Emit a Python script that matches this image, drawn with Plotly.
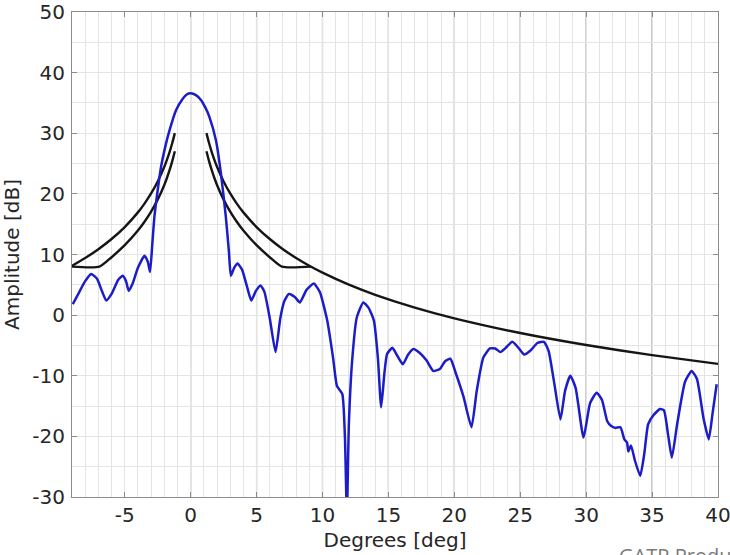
import plotly.graph_objects as go

# ---------------- data ----------------
# measured antenna pattern (blue)
pattern_deg = [-8.94, -8.5, -8.0, -7.55, -7.1, -6.7, -6.4, -6.0, -5.5, -5.15, -4.9, -4.7, -4.4, -4.0,
               -3.5, -3.25, -3.08, -2.9, -2.75, -2.5, -2.25, -1.9, -1.6, -1.11, -0.6, -0.3, 0.0, 0.4,
               0.78, 1.1, 1.42, 1.92, 2.3, 2.67, 2.9, 3.05, 3.3, 3.56, 3.9, 4.3, 4.6, 4.95, 5.3, 5.6,
               6.0, 6.44, 6.8, 7.1, 7.45, 7.9, 8.28, 8.8, 9.34, 9.8, 10.36, 10.8, 11.1, 11.5, 11.7,
               11.85, 12.0, 12.25, 12.6, 13.1, 13.5, 13.9, 14.2, 14.45, 14.7, 14.9, 15.3, 15.7, 16.1,
               16.5, 16.9, 17.4, 17.9, 18.4, 18.9, 19.3, 19.7, 20.1, 20.7, 21.3, 21.7, 22.2, 22.7,
               23.1, 23.5, 23.9, 24.4, 24.9, 25.3, 25.8, 26.3, 26.8, 27.15, 27.6, 28.05, 28.4, 28.8,
               29.2, 29.8, 30.3, 30.8, 31.2, 31.6, 31.9, 32.2, 32.6, 32.9, 33.1, 33.2, 33.4, 33.7,
               34.1, 34.4, 34.7, 35.1, 35.6, 35.9, 36.2, 36.5, 36.9, 37.5, 38.0, 38.4, 38.9, 39.3,
               39.6, 39.9]
pattern_db = [1.8, 3.6, 5.6, 6.8, 6.0, 3.8, 2.4, 3.5, 5.8, 6.5, 5.6, 4.0, 5.2, 7.8,
              9.8, 8.8, 7.1, 12.0, 16.2, 20.6, 24.4, 28.0, 30.5, 33.8, 35.7, 36.4, 36.6, 36.3,
              35.5, 34.3, 32.7, 28.8, 23.3, 16.2, 10.5, 6.5, 7.8, 8.5, 7.5, 4.5, 2.4, 4.0, 4.9, 3.8,
              -0.5, -6.1, -0.5, 2.3, 3.5, 3.0, 2.1, 4.2, 5.2, 3.8, -0.9, -7.0, -11.7, -13.0, -20.0,
              -33.0, -18.0, -7.5, -0.4, 2.1, 1.2, -0.9, -7.0, -15.2, -9.5, -6.4, -5.4, -6.8, -8.1,
              -6.5, -5.6, -6.3, -7.5, -9.2, -8.9, -7.6, -7.2, -9.5, -13.5, -18.5, -12.5, -7.0, -5.5,
              -5.5, -6.1, -5.4, -4.4, -5.5, -6.5, -5.8, -4.6, -4.4, -5.9, -11.5, -17.2, -12.5, -10.0,
              -12.0, -20.2, -14.5, -12.8, -14.0, -17.5, -18.3, -18.6, -18.5, -20.5, -21.0, -22.5, -21.5, -24.0,
              -26.5, -23.0, -18.0, -16.5, -15.5, -15.7, -19.5, -23.5, -18.0, -11.0, -9.2, -10.5, -17.0, -20.5,
              -16.0, -11.4]

# upper envelope (black), right side
upper_right_deg = [1.2, 1.4, 1.6, 1.8, 2.0, 2.5, 3.0, 3.5, 4.0, 5.0, 6.0, 7.0, 8.0, 9.0, 10.0,
                   12.0, 14.0, 17.0, 20.0, 25.0, 30.0, 35.0, 40.0]
upper_right_db = [30.02, 28.35, 26.90, 25.62, 24.47, 22.05, 20.07, 18.40, 16.95, 14.53, 12.55, 10.87,
                  9.42, 8.14, 7.00, 5.02, 3.35, 1.24, -0.53, -2.95, -4.93, -6.60, -8.05]
# upper envelope, left side
upper_left_deg = [-1.2, -1.4, -1.6, -1.8, -2.0, -2.5, -3.0, -3.5, -4.0, -5.0, -6.0, -7.0, -8.0, -9.0]
upper_left_db = [30.02, 28.35, 26.90, 25.62, 24.47, 22.05, 20.07, 18.40, 16.95, 14.53, 12.55, 10.87,
                 9.42, 8.14]
# lower envelope (black), right side
lower_right_deg = [1.2, 1.4, 1.6, 1.8, 2.0, 2.5, 3.0, 3.5, 4.0, 5.0, 6.0, 6.92, 9.12]
lower_right_db = [27.02, 25.35, 23.90, 22.62, 21.47, 19.05, 17.07, 15.40, 13.95, 11.53, 9.55, 8.0, 8.0]
# lower envelope, left side
lower_left_deg = [-1.2, -1.4, -1.6, -1.8, -2.0, -2.5, -3.0, -3.5, -4.0, -5.0, -6.0, -6.92, -9.0]
lower_left_db = [27.02, 25.35, 23.90, 22.62, 21.47, 19.05, 17.07, 15.40, 13.95, 11.53, 9.55, 8.0, 8.0]

x_ticks = [-5, 0, 5, 10, 15, 20, 25, 30, 35, 40]
x_tick_text = ["-5", "0", "5", "10", "15", "20", "25", "30", "35", "40"]
y_ticks = [-30, -20, -10, 0, 10, 20, 30, 40, 50]
y_tick_text = ["-30", "-20", "-10", "0", "10", "20", "30", "40", "50"]
dark_grid_x = [0, 5, 10, 15, 20, 25, 30, 35]

# ---------------- figure ----------------
FONT = "DejaVu Sans"
BLUE = "#1c1cc8"
BLACK = "#151515"

fig = go.Figure()
for xs, ys in [(upper_left_deg, upper_left_db), (lower_left_deg, lower_left_db),
               (upper_right_deg, upper_right_db), (lower_right_deg, lower_right_db)]:
    fig.add_trace(go.Scatter(x=xs, y=ys, mode="lines",
                             line=dict(color=BLACK, width=2.4, shape="spline", smoothing=0.6),
                             showlegend=False, hoverinfo="skip"))
fig.add_trace(go.Scatter(x=pattern_deg, y=pattern_db, mode="lines",
                         line=dict(color=BLUE, width=2.5, shape="spline", smoothing=0.5),
                         showlegend=False))

for gx in dark_grid_x:
    fig.add_shape(type="line", xref="x", yref="paper", x0=gx, x1=gx, y0=0, y1=1,
                  line=dict(color="#959595", width=1.2), layer="below")

axis_common = dict(
    showline=True, linecolor="#8c8c8c", linewidth=1, mirror="ticks",
    ticks="inside", ticklen=5, tickcolor="#8c8c8c", tickwidth=1,
    tickfont=dict(family=FONT, size=20, color="#262626"),
    gridcolor="#e4e4e4", gridwidth=1, zeroline=False, ticklabeloverflow="allow",
)

fig.update_xaxes(range=[-9, 40], tickvals=x_ticks, ticktext=x_tick_text,
                 minor=dict(dtick=1, tick0=0, showgrid=True, gridcolor="#e4e4e4", gridwidth=1, ticks=""),
                 title=dict(text="Degrees [deg]", font=dict(family=FONT, size=20, color="#262626"),
                            standoff=6),
                 **axis_common)
fig.update_yaxes(range=[-30, 50], tickvals=y_ticks, ticktext=y_tick_text,
                 minor=dict(dtick=5, tick0=0, showgrid=True, gridcolor="#e4e4e4", gridwidth=1, ticks=""),
                 title=dict(text="Amplitude [dB]", font=dict(family=FONT, size=20, color="#262626"),
                            standoff=8),
                 ticklabelstandoff=2,
                 **axis_common)

fig.add_annotation(text="GATR Products", xref="paper", yref="paper",
                   x=(617 - 72) / 646, y=(497 - 540) / 485, xanchor="left", yanchor="top",
                   showarrow=False, font=dict(family="Open Sans", size=20, color="#7a7a7a"))

fig.update_layout(width=730, height=555, margin=dict(l=72, r=12, t=12, b=58, autoexpand=False),
                  plot_bgcolor="white", paper_bgcolor="white")

fig.write_html("out.html")
